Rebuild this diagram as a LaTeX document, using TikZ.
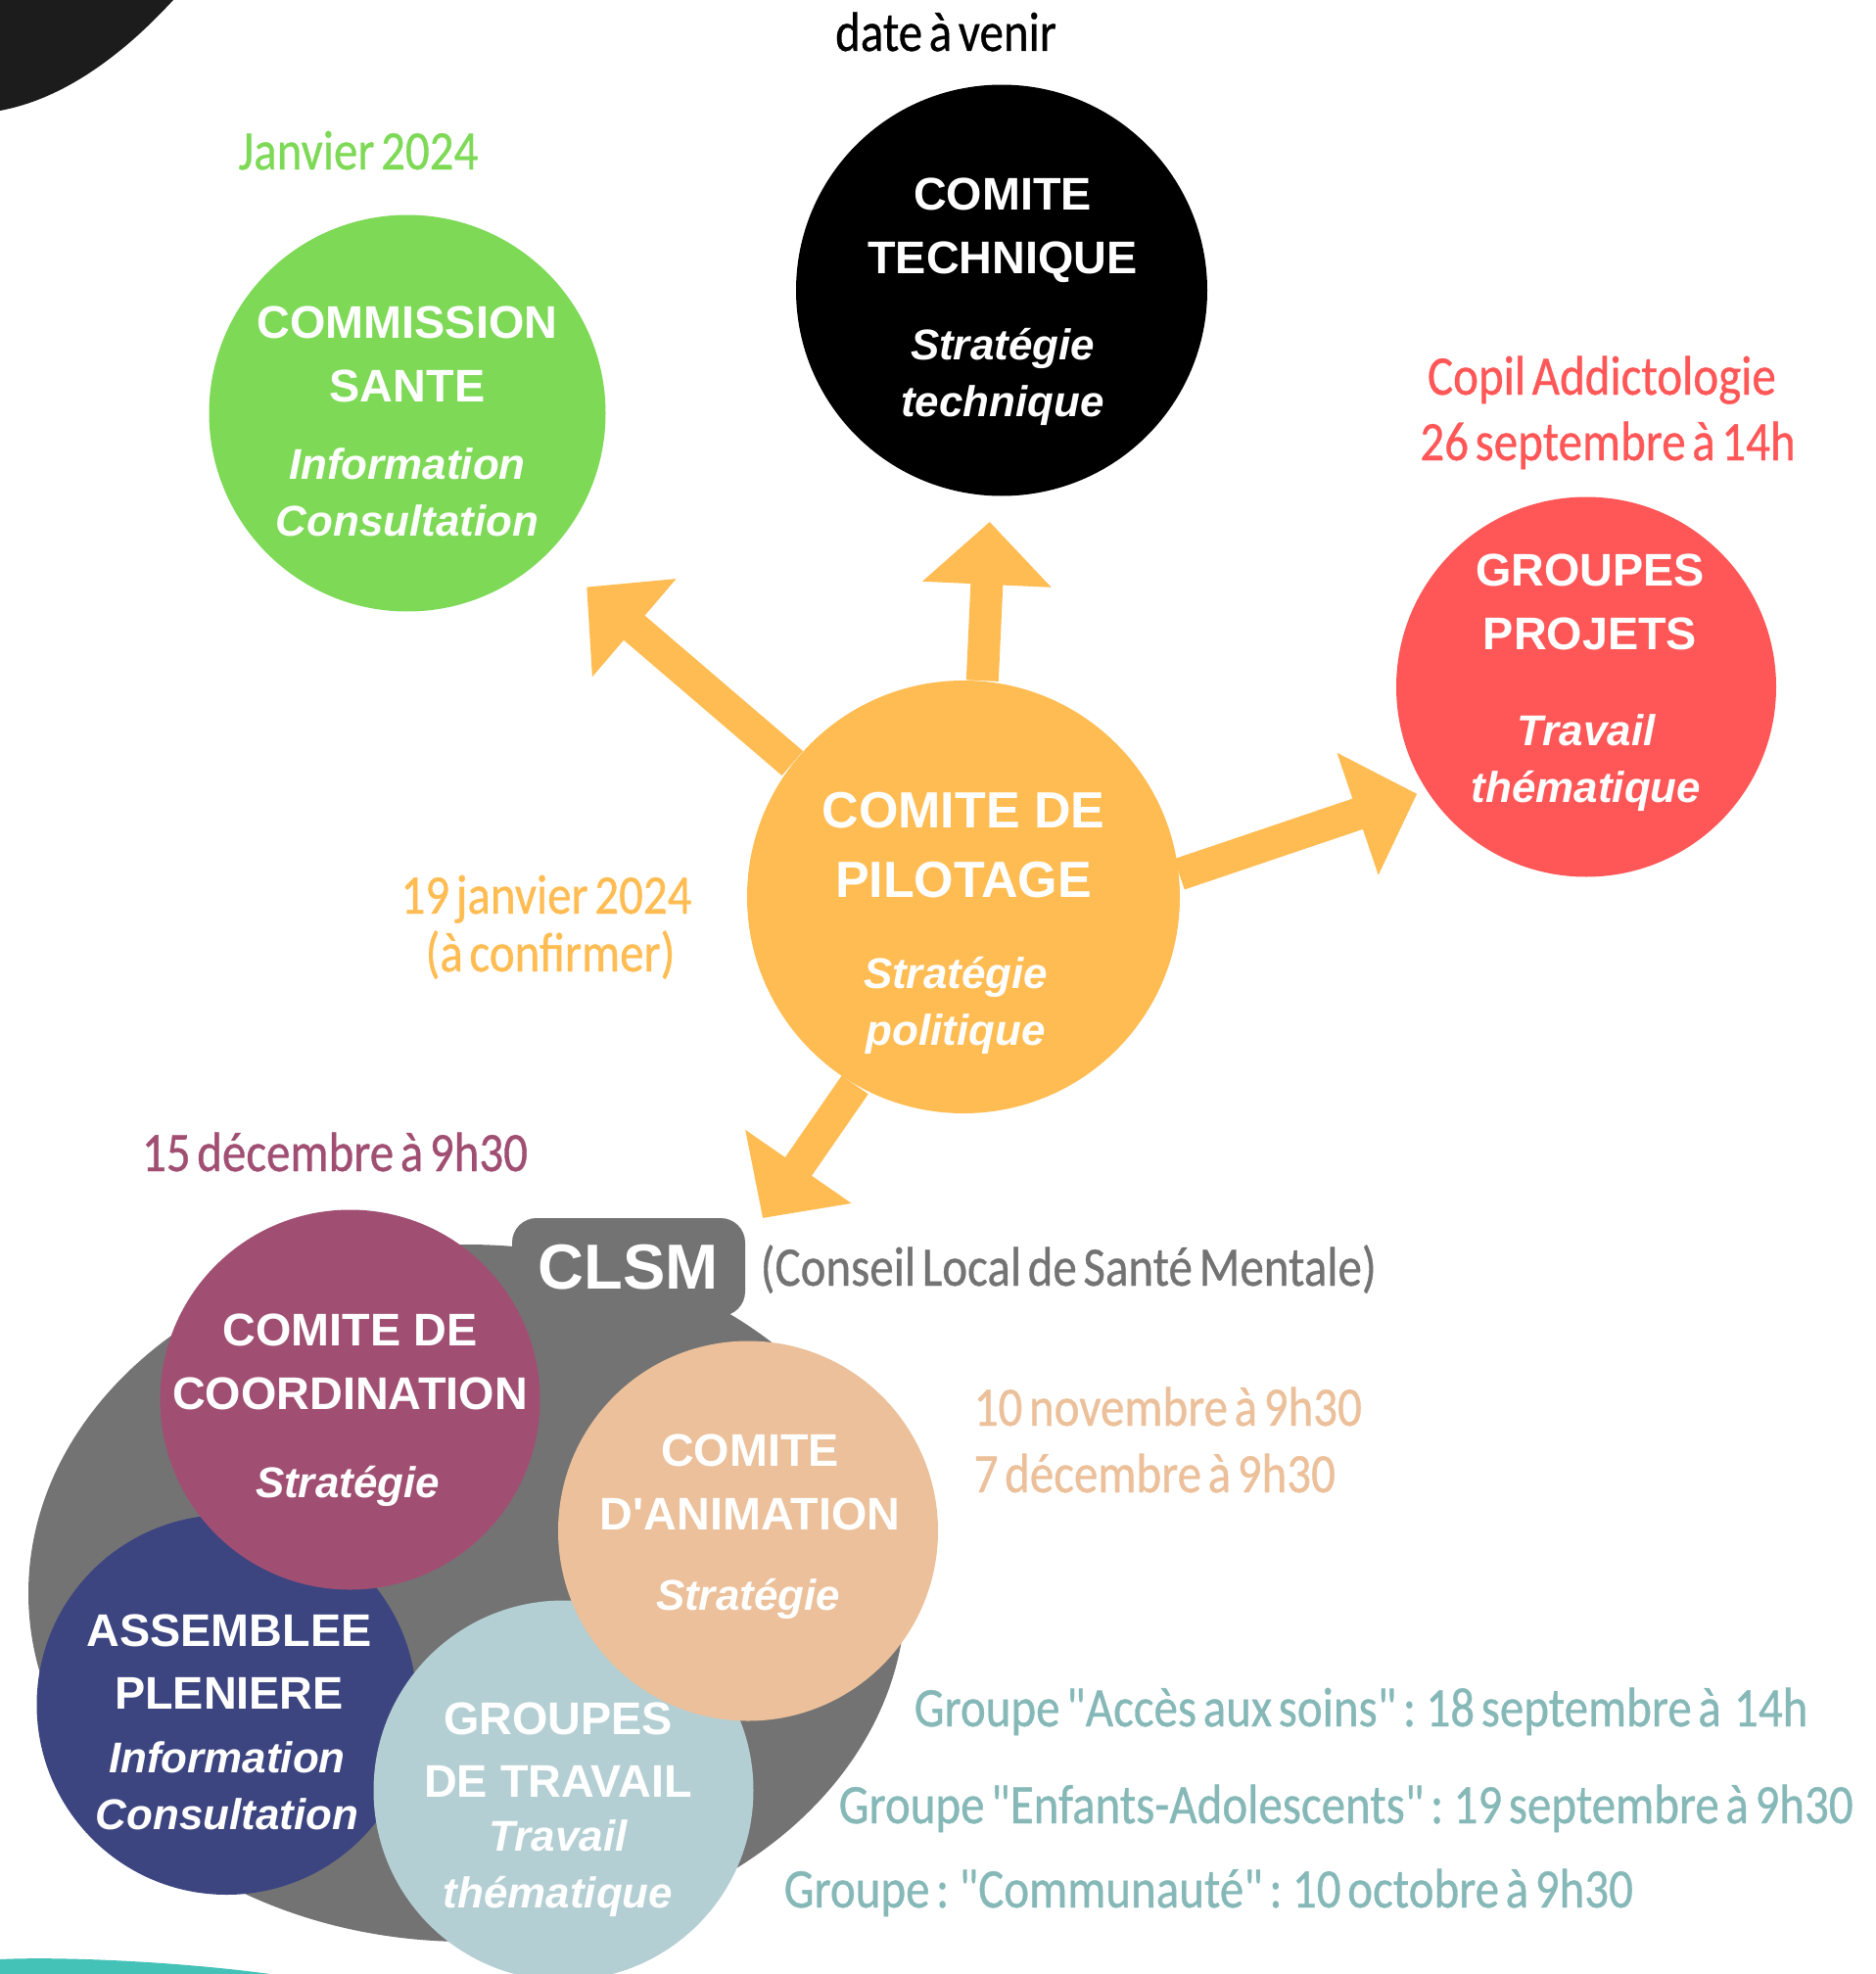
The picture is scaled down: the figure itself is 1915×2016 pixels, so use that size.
\documentclass[tikz,border=0pt]{standalone}
\usepackage{fontspec}
\setmainfont{Liberation Sans}[Ligatures=TeXOff]
\newfontfamily\datefont[FakeStretch=0.86,FakeBold=0.6,WordSpace=0.6]{Carlito}
\usepackage{tikz}
\usetikzlibrary{arrows.meta,shapes.geometric}
\def\bubsize{38.8mm}

\definecolor{santegreen}{HTML}{7ED957}
\definecolor{projred}{HTML}{FF5757}
\definecolor{pilotorange}{HTML}{FFBC52}
\definecolor{coordplum}{HTML}{A04F73}
\definecolor{assembnavy}{HTML}{3C4580}
\definecolor{travailblue}{HTML}{B4CFD3}
\definecolor{animpeach}{HTML}{EBC09A}
\definecolor{clsmgray}{HTML}{737373}
\definecolor{groupteal}{HTML}{86B8B8}
\definecolor{cornerteal}{HTML}{44C2B8}
\definecolor{cornerdark}{HTML}{1C1C1C}

\begin{document}
\begin{tikzpicture}[x=0.1mm,y=-0.1mm]
    \tikzstyle{bubble}=[circle,inner sep=0pt,minimum size=\bubsize]
    \tikzstyle{titletxt}=[text=white,align=center,inner sep=0pt,font=\fontsize{13.3}{18.4}\selectfont\bfseries]
    \tikzstyle{subtxt}=[text=white,align=center,inner sep=0pt,font=\fontsize{12.5}{16.5}\selectfont\bfseries\itshape]
    \tikzstyle{datetxt}=[anchor=base,inner sep=0pt,font=\datefont\fontsize{16.2}{20}\selectfont]
    \tikzstyle{big arrow}=[draw=pilotorange,line width=3.3mm,-{Triangle[width=12.8mm,length=6.4mm]}]

    \useasboundingbox (0,0) rectangle (1915,2016);

    % Corner shapes of the page
    \fill[cornerdark] (0,0) -- (177,0) .. controls (120,62) and (60,102) .. (0,113) -- cycle;
    \fill[cornerteal] (0,2016) -- (0,2001) .. controls (60,1998) and (180,2003) .. (276,2016) -- cycle;

    % Draw the CLSM group
    \node[ellipse,fill=clsmgray,inner sep=0pt,minimum width=89.6mm,minimum height=71.2mm] (clsm) at (477,1627) {};
    \node[fill=clsmgray,rounded corners=2.5mm,minimum width=23.8mm,minimum height=10mm,
        text=white,font=\fontsize{18.5}{20}\selectfont\bfseries] (clsm-tab) at (642,1294) {CLSM};
    \coordinate (clsm-in) at (779,1244);

    % Draw the circles of the CLSM
    \node[bubble,fill=assembnavy] (assemb) at (231.5,1741) {};
    \node[bubble,fill=coordplum] (coord) at (357.5,1429.5) {};
    \node[bubble,fill=travailblue] (travail) at (575.5,1828.5) {};
    \node[bubble,fill=animpeach] (anim) at (764,1563.5) {};

    % Draw the other circles
    \node[bubble,fill=santegreen,minimum size=40.5mm] (sante) at (416,422) {};
    \node[bubble,fill=black,minimum size=42mm] (tech) at (1023,296.5) {};
    \node[bubble,fill=projred] (projets) at (1620,701.5) {};
    \node[bubble,fill=pilotorange,minimum size=44.2mm] (pil) at (984,916) {};

    % Texts in the circles
    \node[titletxt] (sante-t) at (416,362) {COMMISSION\\SANTE};
    \node[subtxt] (sante-s) at (416,503) {Information\\Consultation};
    \node[titletxt] (tech-t) at (1024,235) {COMITE\\TECHNIQUE};
    \node[subtxt] (tech-s) at (1024,385) {Stratégie\\technique};
    \node[titletxt] (projets-t) at (1624,615) {GROUPES\\PROJETS};
    \node[subtxt] (projets-s) at (1620,779) {Travail\\thématique};
    \node[titletxt,font=\fontsize{14.8}{20.2}\selectfont\bfseries] (pil-t) at (984,863) {COMITE DE\\PILOTAGE};
    \node[subtxt] (pil-s) at (976,1027) {Stratégie\\politique};
    \node[titletxt] (coord-t) at (357.5,1391) {COMITE DE\\COORDINATION};
    \node[subtxt] (coord-s) at (355,1518) {Stratégie};
    \node[titletxt] (anim-t) at (766,1514) {COMITE\\D'ANIMATION};
    \node[subtxt] (anim-s) at (764,1633) {Stratégie};
    \node[titletxt] (assemb-t) at (234,1697) {ASSEMBLEE\\PLENIERE};
    \node[subtxt] (assemb-s) at (232,1824) {Information\\Consultation};
    \node[titletxt] (travail-t) at (570,1787) {GROUPES\\DE TRAVAIL};
    \node[subtxt] (travail-s) at (570,1908) {Travail\\thématique};

    % Dates
    \node[datetxt,text=black] (tech-d) at (966,52) {date à venir};
    \node[datetxt,text=santegreen] (sante-d) at (366,173) {Janvier 2024};
    \node[datetxt,text=projred] (projets-d1) at (1636,403) {Copil Addictologie};
    \node[datetxt,text=projred] (projets-d2) at (1642,470) {26 septembre à 14h};
    \node[datetxt,text=pilotorange] (pil-d1) at (558,933) {19 janvier 2024};
    \node[datetxt,text=pilotorange] (pil-d2) at (562,992) {(à confirmer)};
    \node[datetxt,text=coordplum] (coord-d) at (342,1196) {15 décembre à 9h30};
    \node[datetxt,anchor=base west,text=animpeach] (anim-d1) at (994,1456) {10 novembre à 9h30};
    \node[datetxt,anchor=base west,text=animpeach] (anim-d2) at (994,1524) {7 décembre à 9h30};
    \node[datetxt,anchor=base west,text=clsmgray] (clsm-d) at (776,1313) {(Conseil Local de Santé Mentale)};
    \node[datetxt,anchor=base west,text=groupteal] (travail-d1) at (933,1763) {Groupe "Accès aux soins" : 18 septembre à \ 14h};
    \node[datetxt,anchor=base west,text=groupteal] (travail-d2) at (856,1862) {Groupe "Enfants-Adolescents" : 19 septembre à 9h30};
    \node[datetxt,anchor=base west,text=groupteal] (travail-d3) at (800,1948) {Groupe : "Communauté" : 10 octobre à 9h30};

    % Arrows from the comite de pilotage
    \draw[big arrow,shorten >=2.6mm] (pil.85) -- (tech.267);
    \draw[big arrow,shorten >=5.2mm] (pil.142) -- (sante.-45);
    \draw[big arrow,shorten >=1mm] (pil.6) -- (projets.213);
    \draw[big arrow] (pil.240) -- (clsm-in);
\end{tikzpicture}
\end{document}
